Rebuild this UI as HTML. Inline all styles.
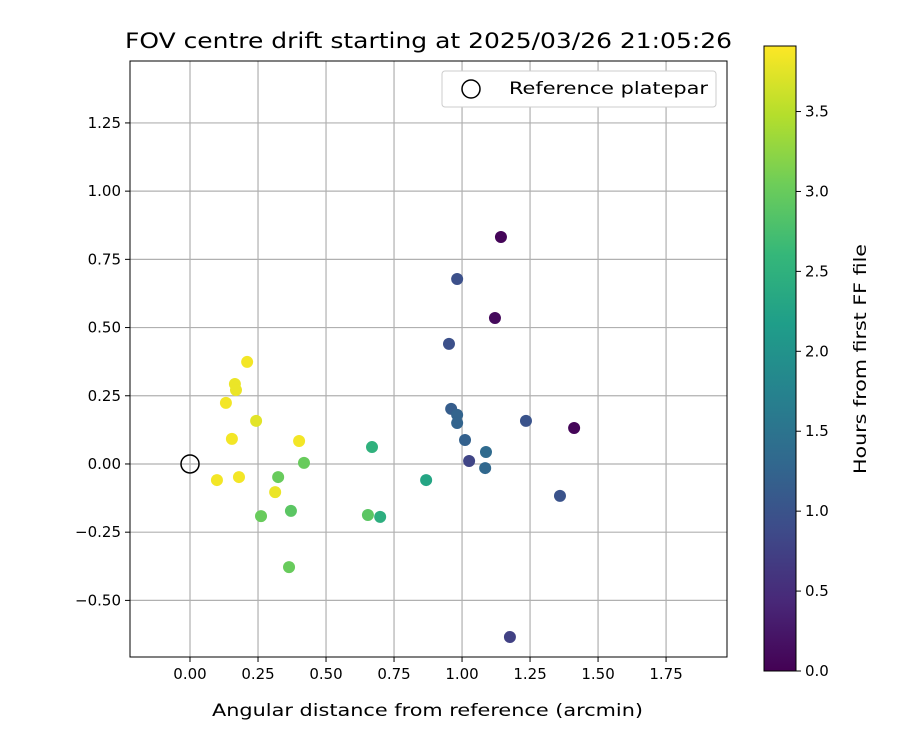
<!DOCTYPE html>
<html><head><meta charset="utf-8"><style>
body{margin:0;background:#fff;font-family:"Liberation Sans","DejaVu Sans",sans-serif;}
svg text{font-family:"DejaVu Sans","Liberation Sans",sans-serif;}
</style></head><body>
<svg id="chart" width="900" height="750" xmlns="http://www.w3.org/2000/svg"></svg>
<script>
const xVals=[1.143,1.121,1.412,0.982,0.952,1.235,0.960,0.982,0.982,1.011,1.026,1.088,1.085,1.360,1.176,0.669,0.868,0.699,0.654,0.419,0.324,0.371,0.261,0.364,0.313,0.401,0.243,0.210,0.165,0.169,0.132,0.154,0.099,0.180];
const yVals=[0.832,0.535,0.132,0.678,0.440,0.158,0.202,0.180,0.150,0.088,0.011,0.044,-0.015,-0.117,-0.634,0.062,-0.059,-0.194,-0.187,0.004,-0.048,-0.172,-0.191,-0.378,-0.103,0.084,0.158,0.374,0.293,0.271,0.224,0.092,-0.059,-0.048];
const hours=[0.05,0.1,0.05,0.95,0.95,1.0,1.15,1.25,1.25,1.2,0.8,1.35,1.3,1.0,0.75,2.5,2.3,2.45,2.9,3.0,3.0,2.9,3.0,3.0,3.8,3.85,3.75,3.85,3.8,3.8,3.85,3.85,3.85,3.85];
const xTicks=[0,0.25,0.5,0.75,1.0,1.25,1.5,1.75];
const yTicks=[-0.5,-0.25,0,0.25,0.5,0.75,1.0,1.25];
const cTicks=[0,0.5,1.0,1.5,2.0,2.5,3.0,3.5];
const NS="http://www.w3.org/2000/svg";
const svg=document.getElementById('chart');
const L=130,R=727,T=61,B=657,xmin=-0.2206,xmax=1.974,ymin=-0.7075,ymax=1.477;
const sx=v=>L+(v-xmin)/(xmax-xmin)*(R-L);
const sy=v=>B-(v-ymin)/(ymax-ymin)*(B-T);
const cT=46,cB=671,cmax=3.91;
const sc=v=>cB-v/cmax*(cB-cT);
const stops=[[68,1,84],[72,40,120],[62,74,137],[49,104,142],[38,130,142],[31,158,137],[53,183,121],[109,205,89],[180,222,44],[253,231,37]];
function viridis(t){t=Math.max(0,Math.min(1,t));const p=t*(stops.length-1),i=Math.min(Math.floor(p),stops.length-2),f=p-i;
const c=stops[i].map((a,k)=>Math.round(a+(stops[i+1][k]-a)*f));return `rgb(${c})`;}
function el(tag,attrs,name,text){const e=document.createElementNS(NS,tag);for(const k in attrs)e.setAttribute(k,attrs[k]);


if(text!==undefined)e.textContent=text;svg.appendChild(e);return e;}
el('text',{x:125,y:48,'font-size':'21',textLength:607,lengthAdjust:'spacingAndGlyphs'},'chart-title','FOV centre drift starting at 2025/03/26 21:05:26');
xTicks.forEach(v=>{const x=sx(v);el('line',{x1:x,x2:x,y1:T,y2:B,stroke:'#b0b0b0','stroke-width':1.2},'x-gridline');
el('line',{x1:x,x2:x,y1:B,y2:B+5,stroke:'#000'},'x-tick');
el('text',{x:x,y:B+22,'text-anchor':'middle','font-size':'15'},'x-tick-label',v.toFixed(2));});
yTicks.forEach(v=>{const y=sy(v);el('line',{x1:L,x2:R,y1:y,y2:y,stroke:'#b0b0b0','stroke-width':1.2},'y-gridline');
el('line',{x1:L-5,x2:L,y1:y,y2:y,stroke:'#000'},'y-tick');
el('text',{x:L-9,y:y+5,'text-anchor':'end','font-size':'15'},'y-tick-label',(v<0?'\u2212':'')+Math.abs(v).toFixed(2));});
el('rect',{x:L,y:T,width:R-L,height:B-T,fill:'none',stroke:'#000','stroke-width':1},'plot-frame');
xVals.forEach((v,i)=>{el('circle',{cx:sx(v),cy:sy(yVals[i]),r:6,fill:viridis(hours[i]/cmax)},'drift-point');});
el('circle',{cx:sx(0),cy:sy(0),r:9,fill:'none',stroke:'#000','stroke-width':1.5},'reference-marker');
el('text',{x:212,y:716,'font-size':'17',textLength:431,lengthAdjust:'spacingAndGlyphs'},'x-axis-title','Angular distance from reference (arcmin)');
el('text',{x:188,y:38,'font-size':'17',textLength:342,lengthAdjust:'spacingAndGlyphs',transform:'rotate(-90 38 359) translate(0 0)'},'y-axis-title','Rotation from reference (arcmin)');
el('rect',{x:442,y:71,width:274,height:36,rx:3,fill:'#fff',stroke:'#ccc'},'legend-box');
el('circle',{cx:471,cy:89,r:9,fill:'none',stroke:'#000','stroke-width':1.5},'legend-marker');
el('text',{x:509,y:94,'font-size':'17',textLength:199,lengthAdjust:'spacingAndGlyphs'},'legend-label','Reference platepar');
const defs=document.createElementNS(NS,'defs');const g=document.createElementNS(NS,'linearGradient');
g.setAttribute('id','vg');g.setAttribute('x1','0');g.setAttribute('y1','1');g.setAttribute('x2','0');g.setAttribute('y2','0');
stops.forEach((s,i)=>{const st=document.createElementNS(NS,'stop');st.setAttribute('offset',i/(stops.length-1));st.setAttribute('stop-color',`rgb(${s})`);g.appendChild(st);});
defs.appendChild(g);svg.appendChild(defs);
el('rect',{x:764,y:cT,width:32,height:cB-cT,fill:'url(#vg)',stroke:'#000','stroke-width':1},'colorbar');
cTicks.forEach(v=>{const y=sc(v);el('line',{x1:796,x2:801,y1:y,y2:y,stroke:'#000'},'colorbar-tick');
el('text',{x:805,y:y+5,'font-size':'15'},'colorbar-tick-label',v.toFixed(1));});
el('text',{x:866,y:359,'text-anchor':'middle','font-size':'17',textLength:230,lengthAdjust:'spacingAndGlyphs',transform:'rotate(-90 866 359)'},'colorbar-title','Hours from first FF file');
</script>
</body></html>
